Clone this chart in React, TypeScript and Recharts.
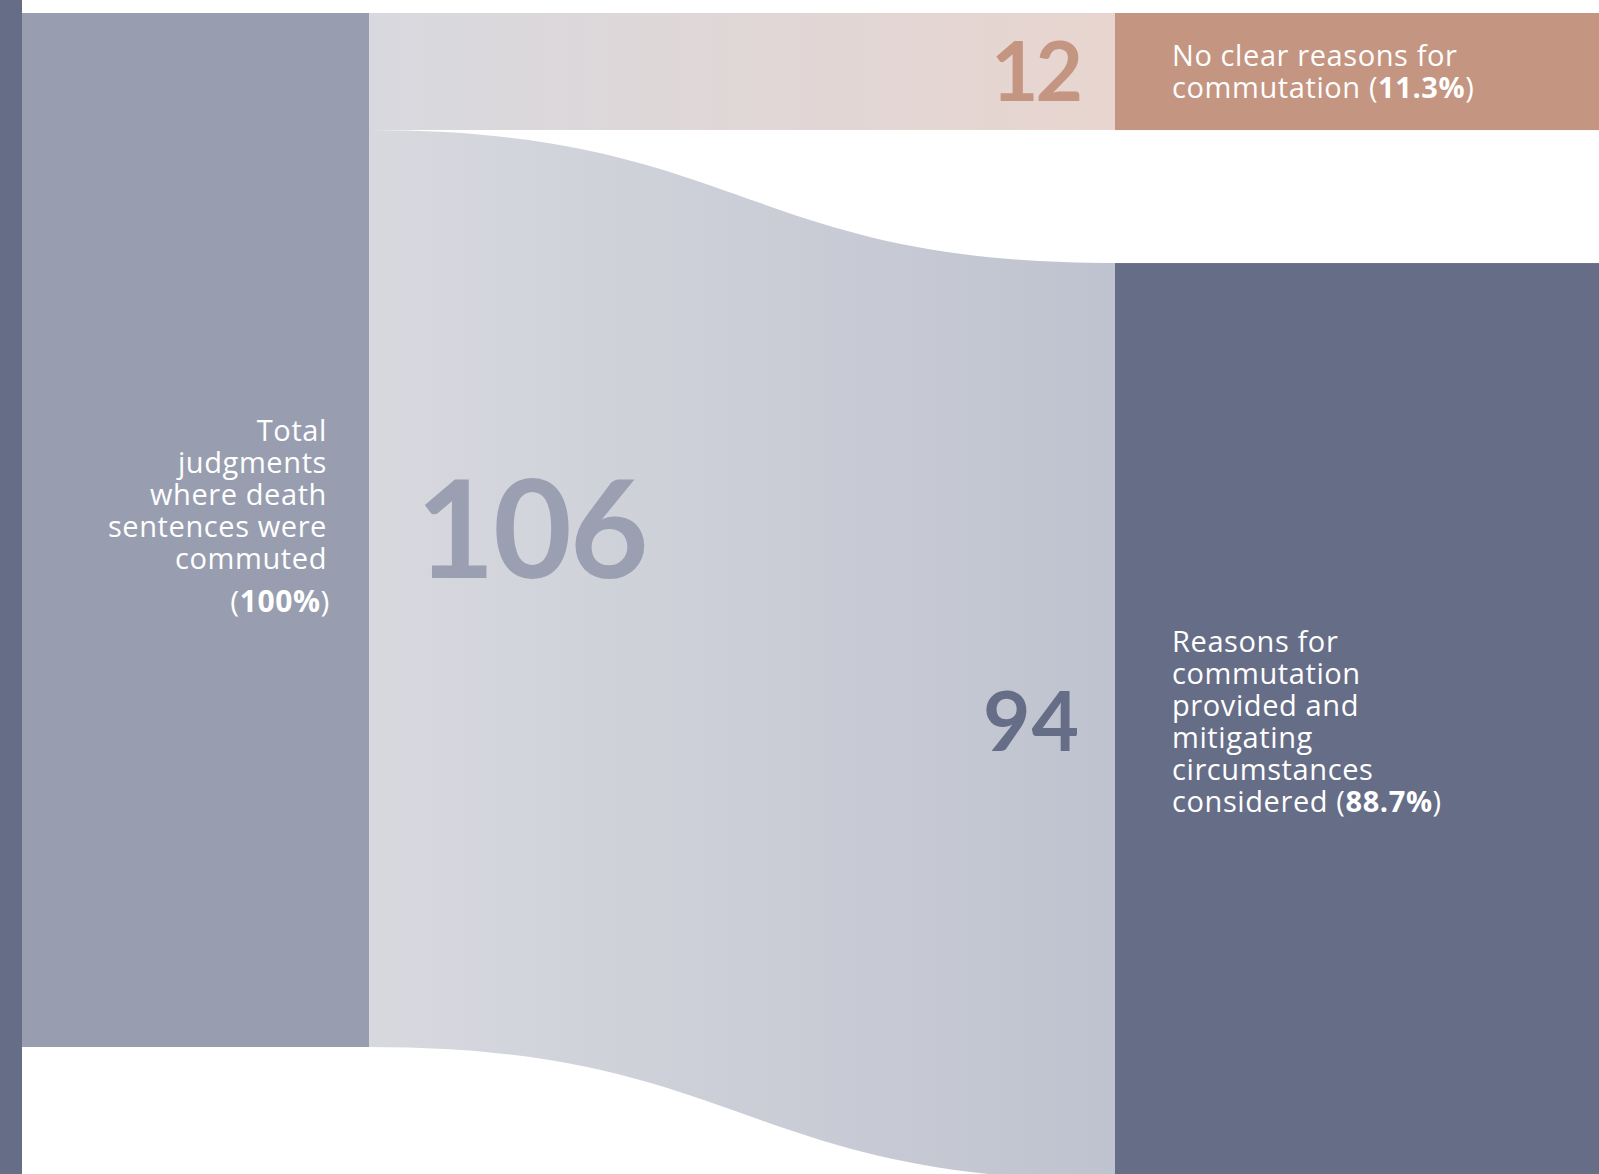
import React from "react";
import { Sankey } from "recharts";

const nodeNames = [
  "Total judgments where death sentences were commuted",
  "No clear reasons for commutation",
  "Reasons for commutation provided and mitigating circumstances considered",
];
const nodeShares = ["100%", "11.3%", "88.7%"];
const nodeLabelLines = [
  ["Total", "judgments", "where death", "sentences were", "commuted"],
  ["No clear reasons for", "commutation"],
  ["Reasons for", "commutation", "provided  and", "mitigating", "circumstances", "considered"],
];
const linkSources = [0, 0];
const linkTargets = [1, 2];
const linkValues = [12, 94];

const nodeColors = ["#989eaf", "#c49581", "#666d87"];
const numberColors = ["#9aa0b2", "#c49581", "#666d87"];
const linkEndColors = ["#e8d5cf", "#bfc3cf"];
const linkStartColor = "#d8d9df";

const LABEL_FONT = "'Open Sans', Lato, sans-serif";
const NUM_FONT = "Lato, 'Open Sans', sans-serif";

const data = {
  nodes: nodeNames.map((name) => ({ name })),
  links: linkValues.map((value, i) => ({
    source: linkSources[i],
    target: linkTargets[i],
    value,
  })),
};

function SankeyNode(props: any) {
  const { x, y, width, height, index, payload } = props;
  const cy = y + height / 2;
  const lines = nodeLabelLines[index];
  const share = nodeShares[index];
  const isSource = payload.depth === 0;

  if (isSource) {
    const textX = x + width - 42;
    const first = cy - 89;
    return (
      <g>
        <rect x={x} y={y} width={width} height={height} fill={nodeColors[index]} />
        <text textAnchor="end" fill="#ffffff" fontFamily={LABEL_FONT} fontSize={29} letterSpacing={0.6}>
          {lines.map((l, i) => (
            <tspan key={i} x={textX} y={first + i * 32}>
              {l}
            </tspan>
          ))}
          <tspan x={textX + 3} y={first + (lines.length - 1) * 32 + 43} fontSize={30}>
            (<tspan fontWeight={700}>{share}</tspan>)
          </tspan>
        </text>
        <text
          x={x + width + 47}
          y={cy + 48}
          fill={numberColors[index]}
          fontFamily={NUM_FONT}
          fontWeight={700}
          fontSize={136}
          letterSpacing={-2}
        >
          {payload.value}
        </text>
      </g>
    );
  }

  const textX = x + 57;
  const first = cy - ((lines.length - 1) * 32) / 2 + 10.5;
  return (
    <g>
      <rect x={x} y={y} width={width} height={height} fill={nodeColors[index]} />
      <text fill="#ffffff" fontFamily={LABEL_FONT} fontSize={29} letterSpacing={0.6}>
        {lines.map((l, i) => (
          <tspan key={i} x={textX} y={first + i * 32}>
            {l}
            {i === lines.length - 1 ? (
              <>
                {" ("}
                <tspan fontWeight={700}>{share}</tspan>
                {")"}
              </>
            ) : null}
          </tspan>
        ))}
      </text>
      <text
        x={x - 35}
        y={cy + 29}
        textAnchor="end"
        fill={numberColors[index]}
        fontFamily={NUM_FONT}
        fontWeight={700}
        fontSize={82}
        letterSpacing={index === 2 ? 1 : -3}
      >
        {payload.value}
      </text>
    </g>
  );
}

function SankeyLink(props: any) {
  const { sourceX, targetX, sourceY, targetY, sourceControlX, targetControlX, linkWidth, index } = props;
  const h = linkWidth / 2;
  const id = `linkGrad${index}`;
  const d = `M${sourceX},${sourceY - h} C${sourceControlX},${sourceY - h} ${targetControlX},${targetY - h} ${targetX},${targetY - h} L${targetX},${targetY + h} C${targetControlX},${targetY + h} ${sourceControlX},${sourceY + h} ${sourceX},${sourceY + h} Z`;
  return (
    <g>
      <defs>
        <linearGradient id={id} gradientUnits="userSpaceOnUse" x1={sourceX} y1={0} x2={targetX} y2={0}>
          <stop offset="0%" stopColor={linkStartColor} />
          <stop offset="100%" stopColor={linkEndColors[index]} />
        </linearGradient>
      </defs>
      <path d={d} fill={`url(#${id})`} stroke="none" />
    </g>
  );
}

export default function App() {
  return (
    <div
      style={{
        position: "fixed",
        top: 0,
        left: 0,
        width: 1599,
        height: 1174,
        overflow: "hidden",
        background: "#ffffff",
      }}
    >
      <div style={{ position: "absolute", left: -115, top: 0 }}>
        <Sankey
          width={1714}
          height={1180}
          data={data}
          nodeWidth={484}
          nodePadding={133}
          iterations={0}
          sort={false}
          linkCurvature={0.5}
          margin={{ top: 13, right: 0, bottom: 0, left: 0 }}
          node={<SankeyNode />}
          link={<SankeyLink />}
        />
      </div>
      <div
        style={{
          position: "absolute",
          left: 0,
          top: 0,
          width: 22,
          height: 1174,
          background: "#666d87",
        }}
      />
    </div>
  );
}
